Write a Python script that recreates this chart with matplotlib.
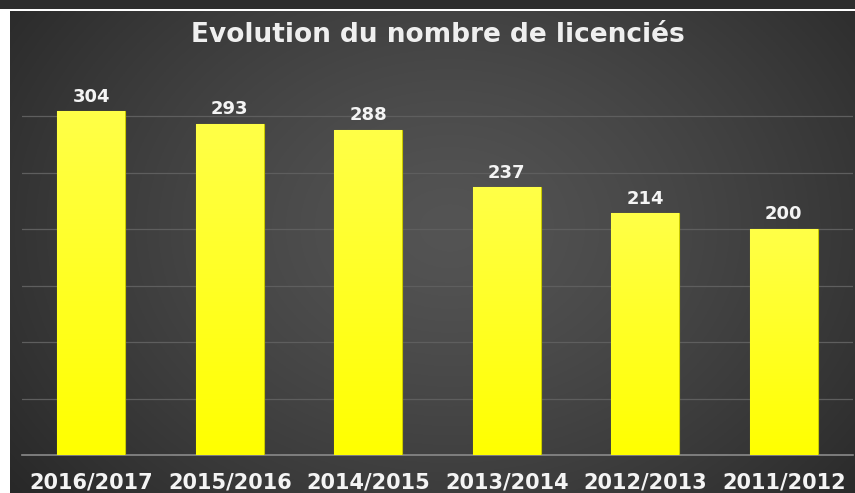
import matplotlib
matplotlib.use("Agg")
import matplotlib.pyplot as plt
import numpy as np
from matplotlib.patches import Rectangle

# Données
saisons = ["2016/2017", "2015/2016", "2014/2015", "2013/2014", "2012/2013", "2011/2012"]
licencies = [304, 293, 288, 237, 214, 200]

W, H = 855, 493
fig = plt.figure(figsize=(W / 100, H / 100), dpi=100)
fig.patch.set_facecolor("white")

# Fond : dégradé radial gris foncé
bg = fig.add_axes([10 / W, 0, 1 - 10 / W, 482 / H])
bg.set_axis_off()
yy, xx = np.mgrid[0:1:300j, 0:1:500j]
r = np.sqrt(((xx - 0.52) / 0.55) ** 2 + ((yy - 0.55) / 0.75) ** 2)
r = np.clip(r / r.max(), 0, 1)
v = (0x54 - (0x54 - 0x28) * r ** 1.3) / 255
bg.imshow(np.dstack([v, v, v]), aspect="auto", extent=(0, 1, 0, 1), origin="lower")
bg.set_xlim(0, 1)
bg.set_ylim(0, 1)

# Bandeau sombre en haut + liseré blanc
fig.patches.append(Rectangle((0, 1 - 8.5 / H), 1, 8.5 / H, transform=fig.transFigure,
                             facecolor="#2e2e2e", edgecolor="none", zorder=5))
fig.patches.append(Rectangle((0, 482 / H), 1, 2.5 / H, transform=fig.transFigure,
                             facecolor="white", edgecolor="none", zorder=5))

# Axe principal
ax = fig.add_axes([22 / W, 38 / H, 831 / W, 395.5 / H])
ax.set_facecolor("none")
x = np.arange(len(saisons))
bars = ax.bar(x, licencies, width=0.49, color="#ffff00", edgecolor="#c8c800",
              linewidth=0.8, zorder=3)

# Dégradé jaune dans chaque barre
grad = np.linspace(0, 1, 256)[:, None]
ycol = np.dstack([np.ones_like(grad), np.ones_like(grad), grad * 0.28])
for b in bars:
    im = ax.imshow(ycol, extent=(b.get_x(), b.get_x() + b.get_width(), 0, b.get_height()),
                   origin="lower", aspect="auto", zorder=3.5)
    im.set_clip_path(b)

for b, val in zip(bars, licencies):
    ax.annotate(str(val), (b.get_x() + b.get_width() / 2, val), xytext=(0, 4),
                textcoords="offset points", ha="center", va="bottom",
                color="#f4f4f4", fontsize=13, fontweight="bold", zorder=6)

ax.set_xlim(-0.5, len(saisons) - 0.5)
ax.set_ylim(0, 350)
ax.set_yticks(range(50, 301, 50))
ax.yaxis.grid(True, color="#5e5e5e", linewidth=0.9, zorder=0)
ax.tick_params(axis="y", left=False, labelleft=False)
ax.tick_params(axis="x", bottom=False, pad=9)
ax.set_xticks(x)
ax.set_xticklabels(saisons, color="#f4f4f4", fontsize=15, fontweight="bold")
for s in ["top", "left", "right"]:
    ax.spines[s].set_visible(False)
ax.spines["bottom"].set_color("#8a8a8a")
ax.spines["bottom"].set_linewidth(1.2)

fig.text(438 / W, 1 - 42 / H, "Evolution du nombre de licenciés", ha="center", va="baseline",
         color="#efefef", fontsize=19, fontweight="bold")

fig.savefig("out.png", dpi=100, facecolor=fig.get_facecolor())
